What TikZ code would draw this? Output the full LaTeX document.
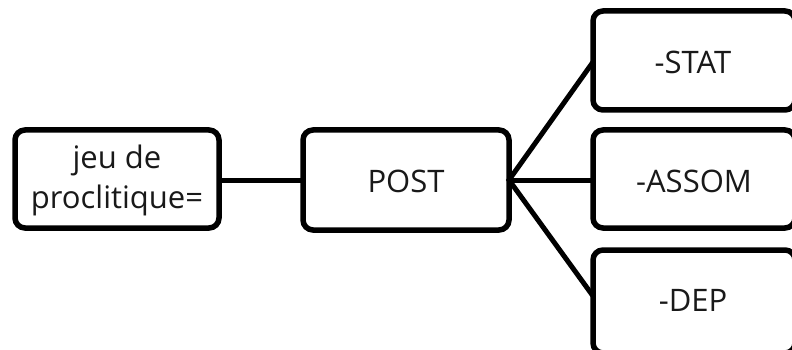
\documentclass[tikz,border=0pt]{standalone}
\usepackage{fontspec}
\setmainfont{Open Sans}
\begin{document}
\begin{tikzpicture}[x=1pt,y=-1pt,
  box/.style={draw=black, line width=5.5pt, rounded corners=10pt, fill=white, inner sep=0pt},
  lbl/.style={font=\fontsize{31}{40}\selectfont, text=black!90, align=center},
  conn/.style={draw=black, line width=5pt}]
\useasboundingbox (0,0) rectangle (792,350);
\begin{scope}
\clip (0,0) rectangle (792,350);
% boxes (drawn as rectangles so cut edges can extend beyond the page)
\draw[box] (15,130) rectangle (219,228);
\draw[box] (303,130) rectangle (509,230);
\draw[box] (593,11) rectangle (795,110);
\draw[box] (593,130) rectangle (795,228);
\draw[box] (593,250) rectangle (795,353);
\end{scope}
% named anchors on box edges
\coordinate (jeuE) at (219,180);
\coordinate (postW) at (303,180);
\coordinate (postE) at (509,180);
\coordinate (statW) at (593,62);
\coordinate (assomW) at (593,180);
\coordinate (depW) at (593,296);
% labels
\node[lbl] (jeu) at (117,180) {jeu de\\proclitique=};
\node[lbl] (post) at (406,181) {POST};
\node[lbl] (stat) at (693,62) {-STAT};
\node[lbl] (assom) at (694,181) {-ASSOM};
\node[lbl] (dep) at (693,300) {-DEP};
% connectors
\draw[conn] (jeuE) -- (postW);
\draw[conn, line join=miter] (statW) -- (postE) -- (depW);
\draw[conn] (postE) -- (assomW);
\end{tikzpicture}
\end{document}
